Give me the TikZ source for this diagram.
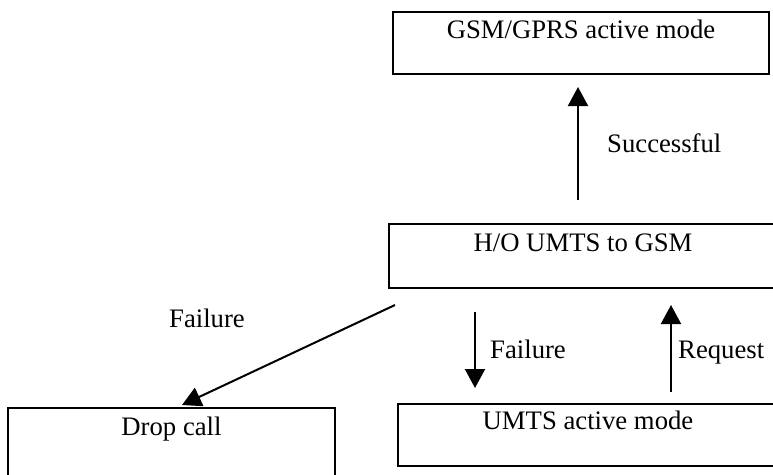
\documentclass[tikz,border=0pt]{standalone}
\usepackage{fontspec}
\setmainfont{Liberation Serif}
\usetikzlibrary{arrows.meta}
\begin{document}
\begin{tikzpicture}[x=1pt,y=-1pt,
  every node/.style={font=\fontsize{26.7pt}{30pt}\selectfont},
  statebox/.style={draw, line width=2pt, inner sep=0pt, anchor=north west, align=center},
  arr/.style={line width=2pt, -{Triangle[width=20pt,length=19pt]}},
  lbl/.style={inner sep=0pt}]
\useasboundingbox (0,0) rectangle (773,474);
\fill[white] (0,0) rectangle (773,474);
\node[statebox, minimum width=376pt, text height=26pt, text depth=36pt] (gsm) at (392,11) {GSM/GPRS active mode};
\node[statebox, minimum width=388pt, text height=27pt, text depth=37pt] (ho) at (388,223) {H/O UMTS to GSM};
\node[statebox, minimum width=327pt, text height=27pt, text depth=46pt] (drop) at (7,407) {Drop call};
\node[statebox, minimum width=380pt, text height=25pt, text depth=37pt] (umts) at (397,403) {UMTS active mode};
\coordinate (sA) at (578,200);
\coordinate (sB) at (578,87);
\coordinate (flA) at (395,305);
\coordinate (flB) at (182,405);
\coordinate (fmA) at (475,312);
\coordinate (fmB) at (475,388);
\coordinate (rqA) at (671,392);
\coordinate (rqB) at (671,305);
\draw[arr] (sA) -- (sB);
\draw[arr] (flA) -- (flB);
\draw[arr] (fmA) -- (fmB);
\draw[arr] (rqA) -- (rqB);
\node[lbl, anchor=base west] (lsucc) at (607,152) {Successful};
\node[lbl, anchor=base] (lfail1) at (207,327) {Failure};
\node[lbl, anchor=base west] (lfail2) at (490,358) {Failure};
\node[lbl, anchor=base west] (lreq) at (678,358) {Request};
\end{tikzpicture}
\end{document}
